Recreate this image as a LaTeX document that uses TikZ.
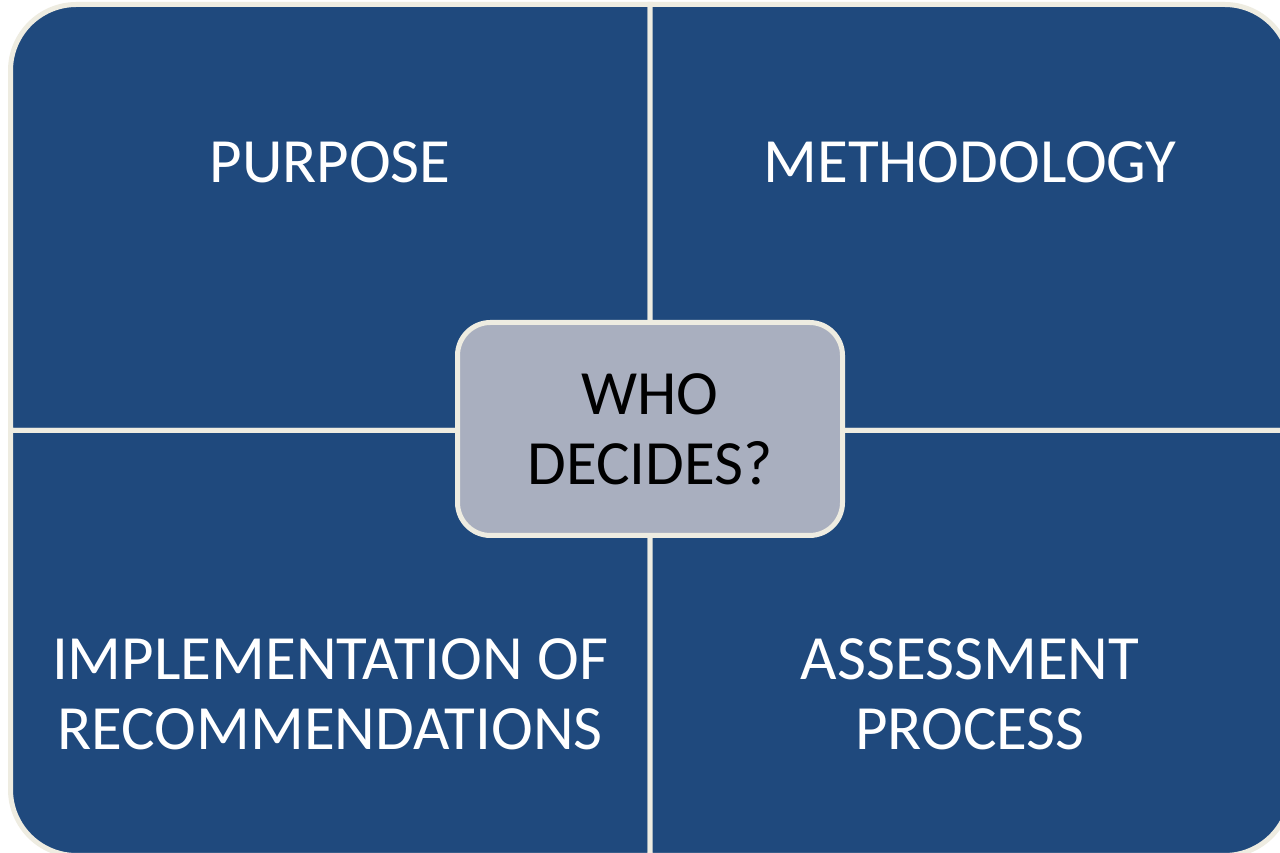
\documentclass[tikz,border=0pt]{standalone}
\usepackage{fontspec}
\setmainfont{Carlito}
\definecolor{quadblue}{RGB}{31,73,125}
\definecolor{cream}{RGB}{238,236,225}
\definecolor{hubgray}{RGB}{169,175,191}
\begin{document}
\begin{tikzpicture}[x=1pt,y=1pt,
  quad/.style={fill=quadblue, draw=cream, line width=5pt, line join=miter},
  quadlabel/.style={text=white, align=center, anchor=base,
    font=\fontsize{63}{70}\selectfont, inner sep=0pt},
  hub/.style={fill=hubgray, draw=cream, line width=5pt, rounded corners=33pt,
    minimum width=385pt, minimum height=213pt, inner sep=0pt,
    align=center, font=\fontsize{63}{70}\selectfont, text=black}]
  \useasboundingbox (0,0) rectangle (1280,853);
  \fill[white] (0,0) rectangle (1280,853);
  \begin{scope}
    \clip (0,0) rectangle (1280,853);
    % four quadrants, each rounded only at its outer corner
    \path[quad] (10.5,422.5) -- (10.5,782.5)
      arc[start angle=180, end angle=90, radius=66] -- (650,848.5)
      -- (650,422.5) -- cycle;
    \path[quad] (650,422.5) -- (650,848.5) -- (1224.5,848.5)
      arc[start angle=90, end angle=0, radius=66] -- (1290.5,422.5) -- cycle;
    \path[quad] (10.5,422.5) -- (10.5,63.5)
      arc[start angle=180, end angle=270, radius=66] -- (650,-2.5)
      -- (650,422.5) -- cycle;
    \path[quad] (650,422.5) -- (650,-2.5) -- (1224.5,-2.5)
      arc[start angle=270, end angle=360, radius=66] -- (1290.5,422.5) -- cycle;
  \end{scope}
  % quadrant labels (base anchor sits on the last line)
  \node[quadlabel] (purpose) at (330,670) {PURPOSE};
  \node[quadlabel] (method) at (970,670) {METHODOLOGY};
  \node[quadlabel] (implement) at (330,103) {IMPLEMENTATION OF\\RECOMMENDATIONS};
  \node[quadlabel] (assess) at (970,103) {ASSESSMENT\\PROCESS};
  % central box
  \node[hub] (who) at (650,424) {WHO\\DECIDES?};
\end{tikzpicture}
\end{document}
